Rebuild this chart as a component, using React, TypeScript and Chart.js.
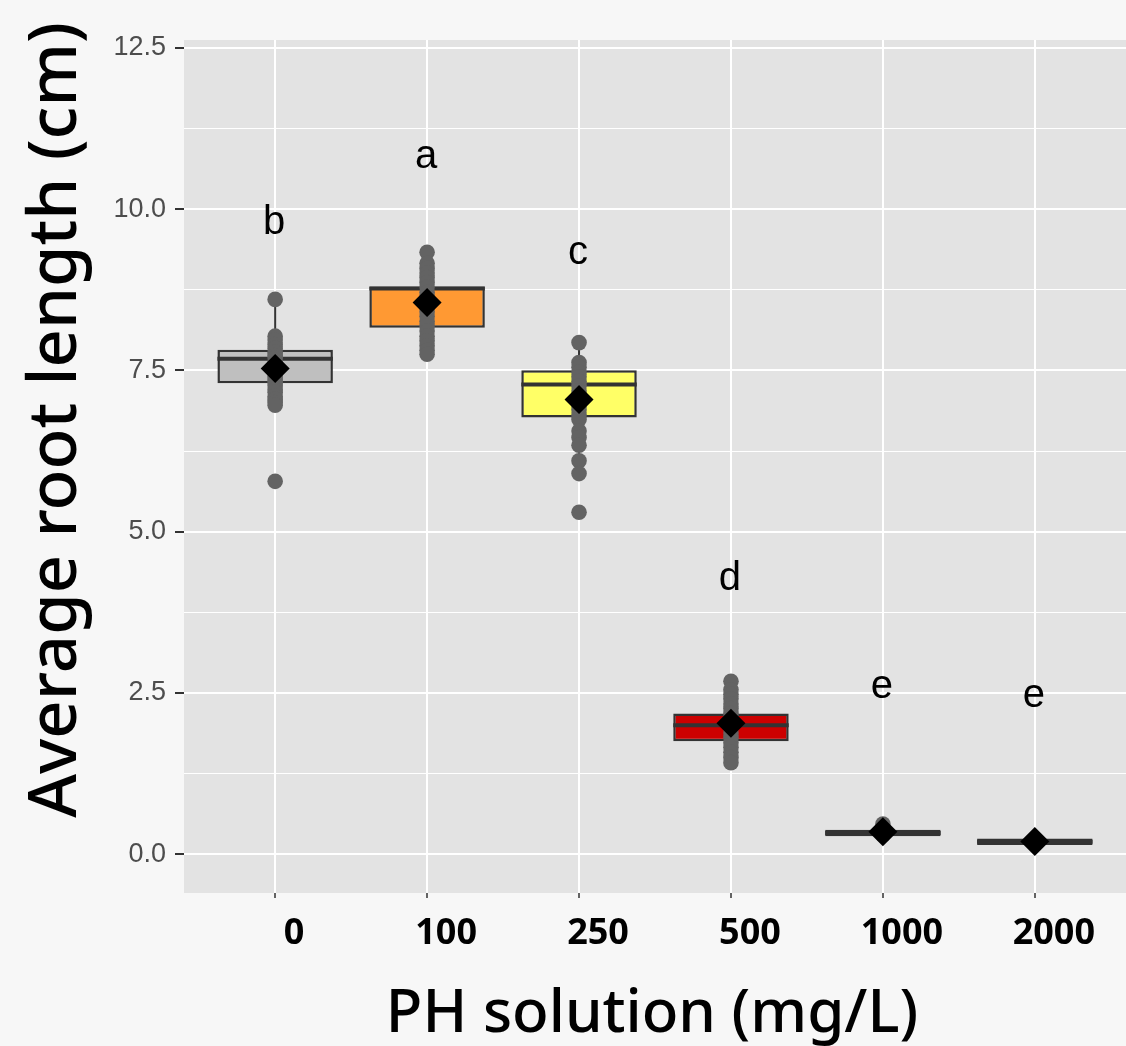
import React, { useEffect, useRef } from "react";
import { Chart, registerables } from "chart.js";

Chart.register(...registerables);

// ---- Data ----
const CATEGORIES = ["0", "100", "250", "500", "1000", "2000"];
const BOX_COLORS = ["#bfbfbf", "#ff9933", "#ffff66", "#cc0000", "#555555", "#555555"];

const Q1 = [7.3, 8.16, 6.77, 1.75, 0.28, 0.145];
const MEDIAN = [7.68, 8.77, 7.28, 2.0, 0.33, 0.195];
const Q3 = [7.82, 8.8, 7.5, 2.18, 0.38, 0.245];
const WHISKER_LOW = [6.96, 7.75, 5.9, 1.42, 0.28, 0.145];
const WHISKER_HIGH = [8.6, 9.33, 7.93, 2.68, 0.4, 0.245];
const MEANS = [7.53, 8.55, 7.05, 2.03, 0.35, 0.2];

const LETTERS = ["b", "a", "c", "d", "e", "e"];
const LETTER_Y = [9.62, 10.63, 9.15, 4.1, 2.42, 2.29];

const POINTS_0 = [8.6, 8.03, 7.97, 7.9, 7.84, 7.78, 7.73, 7.69, 7.62, 7.57, 7.52, 7.46, 7.41, 7.36, 7.31, 7.26, 7.2, 7.16, 7.1, 7.05, 7.0, 6.96, 5.78];
const POINTS_100 = [9.33, 9.16, 9.08, 9.01, 8.94, 8.86, 8.79, 8.71, 8.64, 8.56, 8.49, 8.41, 8.34, 8.26, 8.19, 8.11, 8.03, 7.96, 7.88, 7.81, 7.75];
const POINTS_250 = [7.93, 7.62, 7.55, 7.47, 7.4, 7.33, 7.26, 7.18, 7.11, 7.03, 6.96, 6.89, 6.81, 6.74, 6.56, 6.46, 6.34, 6.1, 5.9, 5.3];
const POINTS_500 = [2.68, 2.55, 2.48, 2.41, 2.33, 2.26, 2.18, 2.11, 2.03, 1.96, 1.88, 1.81, 1.73, 1.66, 1.58, 1.5, 1.42];
const POINTS_1000 = [0.47, 0.4, 0.36, 0.33, 0.3];
const POINTS_2000 = [0.22, 0.2, 0.18, 0.16];
const POINT_GROUPS = [POINTS_0, POINTS_100, POINTS_250, POINTS_500, POINTS_1000, POINTS_2000];

const Y_TICKS = [0, 1.25, 2.5, 3.75, 5, 6.25, 7.5, 8.75, 10, 11.25, 12.5];
const Y_MIN = -0.6;
const Y_MAX = 12.62;
const X_MIN = -0.6;
const X_MAX = 5.6;
const BOX_WIDTH = 0.76;

const X_TITLE = "PH solution (mg/L)";
const Y_TITLE = "Average root length (cm)";

const isMajor = (v: number) => Math.abs(v / 2.5 - Math.round(v / 2.5)) < 1e-6;

const bgPlugin = {
  id: "panelBg",
  beforeDraw(chart: any) {
    const { ctx, chartArea } = chart;
    ctx.save();
    ctx.fillStyle = "#f7f7f7";
    ctx.fillRect(0, 0, chart.width, chart.height);
    ctx.fillStyle = "#e3e3e3";
    ctx.fillRect(chartArea.left, chartArea.top, chartArea.right - chartArea.left, chartArea.bottom - chartArea.top);
    ctx.restore();
  },
};

const lettersPlugin = {
  id: "letters",
  afterDatasetsDraw(chart: any) {
    const { ctx, scales } = chart;
    ctx.save();
    ctx.fillStyle = "#000000";
    ctx.font = '40px "Liberation Sans", Arial, sans-serif';
    ctx.textAlign = "center";
    ctx.textBaseline = "alphabetic";
    LETTERS.forEach((t, i) => {
      ctx.fillText(t, scales.x.getPixelForValue(i) - 1, scales.y.getPixelForValue(LETTER_Y[i]));
    });
    ctx.restore();
  },
};

const titlesPlugin = {
  id: "axisTitles",
  afterDraw(chart: any) {
    const { ctx, chartArea } = chart;
    ctx.save();
    ctx.fillStyle = "#000000";
    // x title
    ctx.font = '500 60px "Noto Sans", "Open Sans", sans-serif';
    ctx.textAlign = "center";
    ctx.textBaseline = "alphabetic";
    ctx.fillText(X_TITLE, (chartArea.left + chartArea.right) / 2 - 3, 1032);
    // y title
    ctx.translate(76, 420);
    ctx.rotate(-Math.PI / 2);
    ctx.font = '500 67px "Noto Sans", "Open Sans", sans-serif';
    ctx.fillText(Y_TITLE, 0, 0);
    ctx.restore();
  },
};

export default function App() {
  const canvasRef = useRef<HTMLCanvasElement | null>(null);

  useEffect(() => {
    if (!canvasRef.current) return;

    const boxData = CATEGORIES.map((_, i) => ({ x: i, y: [Q1[i], Q3[i]] }));
    const medianData = CATEGORIES.map((_, i) => ({ x: i, y: MEDIAN[i] }));
    const meanData = CATEGORIES.map((_, i) => ({ x: i, y: MEANS[i] }));
    const whiskerData: any[] = [];
    CATEGORIES.forEach((_, i) => {
      whiskerData.push({ x: i, y: Q3[i] }, { x: i, y: WHISKER_HIGH[i] }, { x: i, y: null });
      whiskerData.push({ x: i, y: Q1[i] }, { x: i, y: WHISKER_LOW[i] }, { x: i, y: null });
    });
    const pointData: any[] = [];
    POINT_GROUPS.forEach((g, i) => g.forEach((v) => pointData.push({ x: i, y: v })));

    const halfBox = (ctx: any) => {
      const s = ctx.chart.scales.x;
      return (Math.abs(s.getPixelForValue(1) - s.getPixelForValue(0)) * BOX_WIDTH) / 2;
    };

    const chart = new Chart(canvasRef.current, {
      type: "bar",
      data: {
        datasets: [
          {
            type: "bar",
            label: "box",
            data: boxData as any,
            backgroundColor: BOX_COLORS,
            borderColor: "#333333",
            borderWidth: 2.5,
            borderSkipped: false,
            categoryPercentage: BOX_WIDTH,
            barPercentage: 1,
            order: 5,
          } as any,
          {
            type: "line",
            label: "whiskers",
            data: whiskerData,
            borderColor: "#333333",
            borderWidth: 2,
            pointRadius: 0,
            fill: false,
            spanGaps: false,
            order: 4,
          } as any,
          {
            type: "scatter",
            label: "median",
            data: medianData,
            pointStyle: "line",
            pointRadius: halfBox,
            pointBorderColor: "#333333",
            pointBorderWidth: 4,
            order: 3,
          } as any,
          {
            type: "scatter",
            label: "points",
            data: pointData,
            pointRadius: 7.8,
            pointBackgroundColor: "#636363",
            pointBorderWidth: 0,
            order: 2,
          } as any,
          {
            type: "scatter",
            label: "mean",
            data: meanData,
            pointStyle: "rectRot",
            pointRadius: 14.5,
            pointBackgroundColor: "#000000",
            pointBorderWidth: 0,
            order: 1,
          } as any,
        ],
      },
      options: {
        animation: false,
        responsive: false,
        devicePixelRatio: 1,
        events: [],
        layout: { autoPadding: false, padding: { top: 40, right: 0, left: 0, bottom: 0 } },
        plugins: {
          legend: { display: false },
          tooltip: { enabled: false },
        },
        scales: {
          x: {
            type: "linear",
            min: X_MIN,
            max: X_MAX,
            offset: false,
            afterBuildTicks: (axis: any) => {
              axis.ticks = CATEGORIES.map((_, i) => ({ value: i }));
            },
            afterFit: (axis: any) => {
              axis.height = 153;
              axis.paddingLeft = 0;
              axis.paddingRight = 0;
            },
            ticks: {
              autoSkip: false,
              maxRotation: 0,
              callback: (_v: any, idx: number) => CATEGORIES[idx],
              font: { family: '"Noto Sans", "Open Sans", sans-serif', size: 36, weight: "bold" },
              color: "#000000",
              padding: 14,
              labelOffset: 19,
            },
            grid: {
              offset: false,
              color: "#ffffff",
              lineWidth: 2,
              tickColor: "#333333",
              tickLength: 5,
              tickWidth: 1.5,
            },
            border: { display: false },
          },
          y: {
            type: "linear",
            min: Y_MIN,
            max: Y_MAX,
            afterBuildTicks: (axis: any) => {
              axis.ticks = Y_TICKS.map((v) => ({ value: v }));
            },
            afterFit: (axis: any) => {
              axis.width = 184;
            },
            ticks: {
              autoSkip: false,
              callback: (v: any) => (isMajor(Number(v)) ? Number(v).toFixed(1) : ""),
              font: { family: '"Liberation Sans", Arial, sans-serif', size: 27 },
              color: "#4d4d4d",
              padding: 9,
            },
            grid: {
              color: "#ffffff",
              lineWidth: (c: any) => (c.tick && isMajor(c.tick.value) ? 2 : 1),
              tickColor: (c: any) => (c.tick && isMajor(c.tick.value) ? "#333333" : "rgba(0,0,0,0)"),
              tickLength: 9,
              tickWidth: 2,
            },
            border: { display: false },
          },
        },
      } as any,
      plugins: [bgPlugin, lettersPlugin, titlesPlugin],
    });

    return () => chart.destroy();
  }, []);

  return (
    <div style={{ position: "absolute", left: 0, top: 0, width: 1126, height: 1046 }}>
      <canvas ref={canvasRef} width={1126} height={1046} style={{ display: "block" }} />
    </div>
  );
}
